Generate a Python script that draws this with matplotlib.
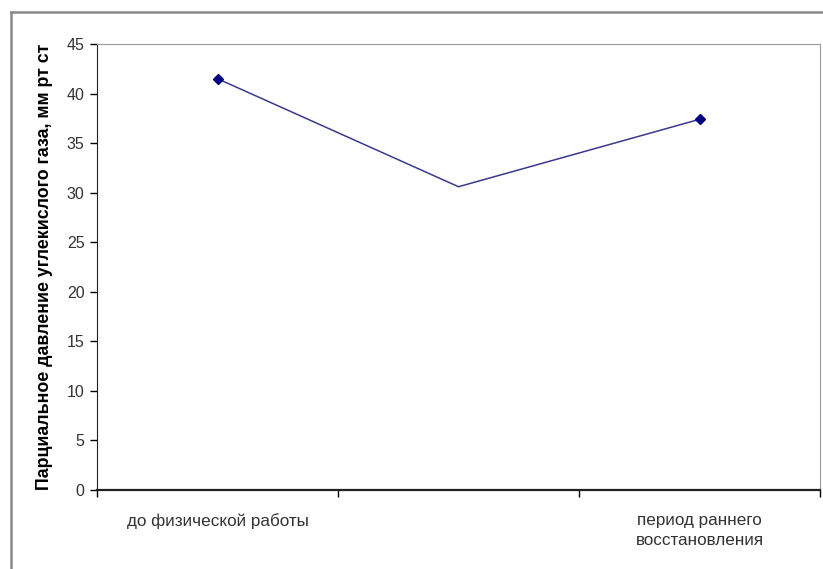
import matplotlib.pyplot as plt
from matplotlib.lines import Line2D

plt.rcParams['font.family'] = ['Liberation Sans', 'DejaVu Sans']

# measurement stages and CO2 partial pressure values
stages = ['до физической работы', '', 'период раннего\nвосстановления']
pco2 = [41.5, 30.6, 37.4]
yticks = [0, 5, 10, 15, 20, 25, 30, 35, 40, 45]

fig = plt.figure(figsize=(8.23, 5.69), dpi=100)
ax = fig.add_axes([97 / 823, 79 / 569, 723 / 823, 446 / 569])

x = list(range(len(stages)))
ax.plot(x, pco2, color='#3a3a8c', lw=1.1, marker='D', markersize=5.5,
        markerfacecolor='#000080', markeredgecolor='#000080', markevery=[0, 2])

ax.set_xlim(-0.5, len(stages) - 0.5)
ax.set_ylim(0, 45)
ax.set_yticks(yticks)
ax.tick_params(axis='y', direction='out', length=5, width=1, labelsize=11.5,
               labelcolor='#333333', pad=4)

# category boundaries get tick marks, labels sit in the middle without marks
ax.set_xticks([i - 0.5 for i in range(len(stages) + 1)])
ax.set_xticklabels([])
ax.tick_params(axis='x', direction='out', length=5, width=1)
ax.set_xticks(x, minor=True)
ax.set_xticklabels(stages, minor=True, fontsize=12.3, color='#333333',
                   linespacing=1.45, va='top')
ax.tick_params(axis='x', which='minor', length=0, pad=16.5)

ax.spines['left'].set_color('#222222')
ax.spines['bottom'].set_color('#222222')
ax.spines['bottom'].set_linewidth(1.6)
ax.spines['top'].set_color('#9a9a9a')
ax.spines['right'].set_color('#9a9a9a')

ax.set_ylabel('Парциальное давление углекислого газа, мм рт ст',
              fontsize=12.8, fontweight='bold', labelpad=10)

# outer chart frame
fig.add_artist(Line2D([11 / 823, 11 / 823], [0, 1 - 12 / 569],
                      transform=fig.transFigure, color='#8a8a8a', lw=1.8))
fig.add_artist(Line2D([11 / 823, 1], [1 - 12 / 569, 1 - 12 / 569],
                      transform=fig.transFigure, color='#8a8a8a', lw=1.8))

fig.savefig('out.png', dpi=100)
